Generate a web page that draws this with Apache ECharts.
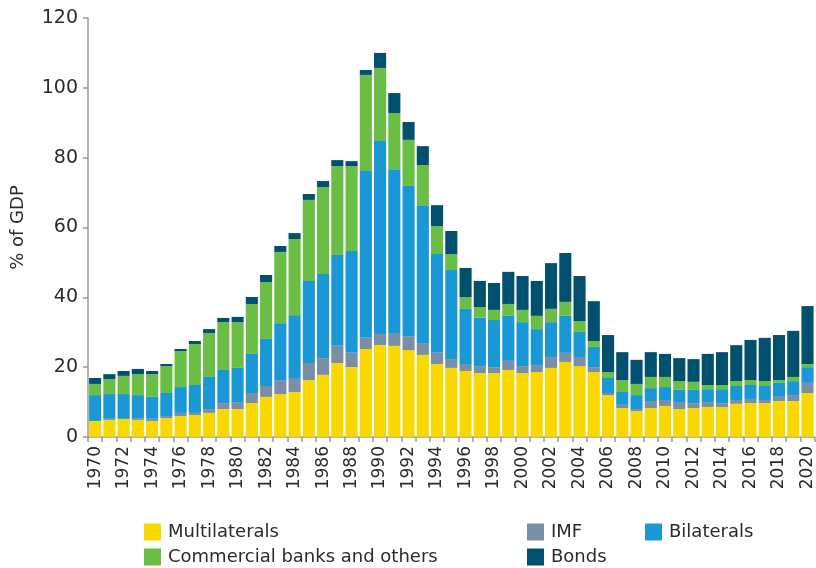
<!DOCTYPE html>
<html>
<head>
<meta charset="utf-8">
<script src="https://cdn.jsdelivr.net/npm/echarts@6/dist/echarts.min.js"></script>
<style>
  html, body { margin: 0; padding: 0; background: #fff; }
  #chart { width: 816px; height: 568px; }
</style>
</head>
<body>
<div id="chart"></div>
<script>
// years 1970-2020
var years = [];
for (var y = 1970; y <= 2020; y++) years.push(String(y));

// % of GDP
var multilaterals = [4.6, 4.9, 5.2, 4.9, 4.6, 5.4, 6.0, 6.3, 6.9, 8.0,
  8.0, 9.7, 11.5, 12.3, 12.9, 16.3, 17.8, 21.2, 20.0, 25.2,
  26.3, 26.1, 24.9, 23.5, 20.9, 19.8, 18.9, 18.3, 18.3, 19.2,
  18.3, 18.6, 19.8, 21.5, 20.3, 18.6, 12.0, 8.3, 7.4, 8.3,
  8.9, 8.0, 8.3, 8.6, 8.6, 9.5, 9.7, 9.7, 10.3, 10.3,
  12.6];
var imf = [0, 0.3, 0, 0.5, 0.6, 0.6, 0.9, 0.6, 1.1, 1.7,
  2.0, 2.9, 3.1, 4.0, 4.0, 4.9, 4.8, 4.9, 4.1, 3.2,
  3.2, 3.7, 4.0, 3.4, 3.2, 2.5, 2.0, 2.0, 1.7, 2.6,
  2.0, 2.0, 3.1, 2.6, 2.6, 1.4, 0.6, 0.9, 0.6, 2.0,
  1.7, 2.0, 1.4, 1.4, 1.1, 1.1, 1.2, 0.9, 1.2, 1.7,
  2.9];
var bilaterals = [7.4, 7.1, 7.1, 6.6, 6.3, 6.6, 7.4, 8.0, 9.2, 9.5,
  9.8, 11.2, 13.5, 16.3, 18.0, 23.5, 24.1, 26.0, 29.2, 47.8,
  55.3, 46.9, 43.0, 39.5, 28.3, 25.5, 15.8, 13.9, 13.5, 12.9,
  12.6, 10.3, 10.0, 10.6, 7.2, 5.8, 4.3, 3.7, 4.0, 3.7,
  3.7, 3.5, 3.8, 3.7, 4.0, 4.0, 4.0, 4.0, 4.0, 4.0,
  4.5];
var commercial = [3.2, 4.3, 5.2, 6.0, 6.5, 7.7, 10.3, 11.7, 12.6, 13.7,
  13.1, 14.3, 16.3, 20.4, 21.8, 23.2, 24.9, 25.5, 24.3, 27.5,
  20.9, 16.1, 13.2, 11.5, 8.0, 4.6, 3.4, 3.0, 2.9, 3.4,
  3.5, 3.8, 3.8, 4.0, 3.1, 1.7, 1.7, 3.4, 3.2, 3.2,
  2.9, 2.5, 2.3, 1.2, 1.2, 1.4, 1.4, 1.4, 0.8, 1.2,
  0.9];
var bonds = [1.7, 1.4, 1.4, 1.5, 0.9, 0.6, 0.6, 0.9, 1.1, 1.2,
  1.5, 2.0, 2.0, 1.7, 1.7, 1.7, 1.7, 1.7, 1.4, 1.4,
  4.3, 5.7, 5.1, 5.4, 6.0, 6.6, 8.3, 7.5, 7.7, 9.2,
  9.7, 10.0, 13.1, 14.0, 12.9, 11.4, 10.6, 8.0, 6.9, 7.1,
  6.6, 6.6, 6.5, 8.9, 9.4, 10.3, 11.5, 12.4, 12.9, 13.2,
  16.6];

var names = ['Multilaterals', 'IMF', 'Bilaterals', 'Commercial banks and others', 'Bonds'];
var colors = ['#F9D800', '#7A8FA6', '#1A98D6', '#6ABD45', '#00506E'];
var values = [multilaterals, imf, bilaterals, commercial, bonds];

var fontFamily = 'DejaVu Sans';
var textColor = '#2b2b2b';
var axisColor = '#9a9a9a';

var chart = echarts.init(document.getElementById('chart'));

var series = names.map(function (n, i) {
  return {
    name: n,
    type: 'bar',
    stack: 'debt',
    barWidth: '85%',
    itemStyle: { color: colors[i] },
    data: values[i]
  };
});

// one legend per item so they sit where the picture has them
var legendPos = [
  { left: 144, top: 523 },
  { left: 527, top: 523 },
  { left: 645, top: 523 },
  { left: 144, top: 548 },
  { left: 527, top: 548 }
];
var legends = names.map(function (n, i) {
  return {
    data: [n],
    left: legendPos[i].left,
    top: legendPos[i].top,
    icon: 'rect',
    itemWidth: 17,
    itemHeight: 17,
    itemGap: 0,
    padding: 0,
    selectedMode: false,
    textStyle: { fontFamily: fontFamily, fontSize: 18, color: textColor, padding: [0, 0, 0, 2] }
  };
});

chart.setOption({
  animation: false,
  textStyle: { fontFamily: fontFamily },
  legend: legends,
  grid: { left: 88, right: 1, top: 18, bottom: 131 },
  xAxis: {
    type: 'category',
    data: years,
    boundaryGap: true,
    axisLine: { lineStyle: { color: axisColor, width: 1.5 } },
    axisTick: { show: true, interval: 0, length: 5, lineStyle: { color: axisColor, width: 1.5 } },
    axisLabel: {
      interval: 1,
      rotate: 90,
      margin: 9,
      fontSize: 17,
      color: textColor,
      fontFamily: fontFamily
    }
  },
  yAxis: {
    type: 'value',
    min: 0,
    max: 120,
    interval: 20,
    name: '% of GDP',
    nameLocation: 'middle',
    nameGap: 61,
    nameTextStyle: { fontSize: 18, color: textColor, fontFamily: fontFamily },
    splitLine: { show: false },
    axisLine: { show: true, lineStyle: { color: axisColor, width: 1.5 } },
    axisTick: { show: true, length: 5, lineStyle: { color: axisColor, width: 1.5 } },
    axisLabel: { fontSize: 19, color: textColor, margin: 10, fontFamily: fontFamily }
  },
  series: series
});
</script>
</body>
</html>
